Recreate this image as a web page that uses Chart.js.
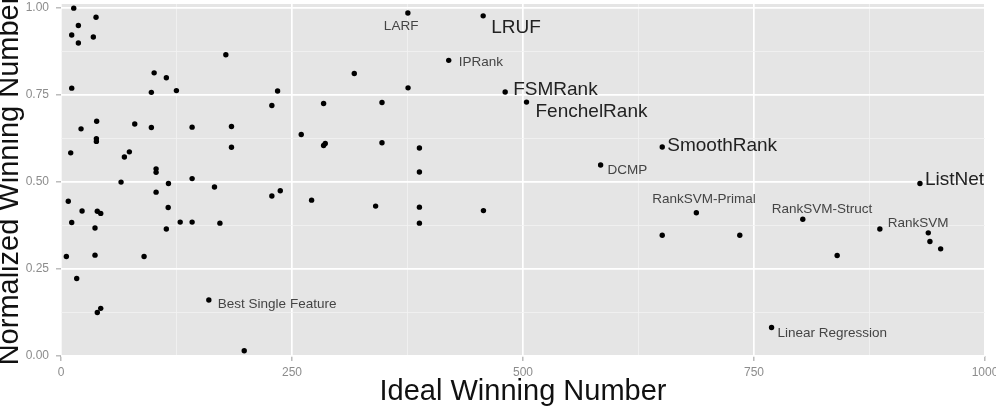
<!DOCTYPE html>
<html>
<head>
<meta charset="utf-8">
<script src="https://cdn.jsdelivr.net/npm/chart.js@4.4.1/dist/chart.umd.min.js"></script>
<style>
  html, body { margin: 0; padding: 0; background: #fff; }
  #wrap { width: 996px; height: 411px; }
</style>
</head>
<body>
<div id="wrap"><canvas id="chart"></canvas></div>
<script>
// unlabelled feature points
const otherX = [13.8, 37.9, 18.8, 11.6, 35.0, 18.8, 178.4, 100.8, 114.0, 11.6, 97.8, 124.9,
  21.7, 38.6, 38.3, 38.3, 79.8, 97.8, 141.9, 184.5, 184.5, 10.5, 74.0, 68.6, 102.9, 102.9,
  141.9, 65.0, 116.3, 166.1, 102.9, 7.9, 11.6, 22.8, 39.3, 43.0, 36.8, 5.8, 36.8, 17.0,
  39.3, 43.0, 89.9, 116.0, 114.0, 129.0, 141.9, 172.0, 198.3, 317.4, 375.6, 234.4, 228.2,
  284.2, 347.4, 260.0, 286.0, 284.2, 347.4, 387.9, 387.9, 237.3, 228.2, 271.2, 340.5,
  387.9, 387.9, 457.2, 650.7, 734.6, 840.0, 938.6, 940.4, 952.0];
const otherY = [1.000, 0.974, 0.950, 0.923, 0.917, 0.900, 0.866, 0.814, 0.800, 0.770, 0.758, 0.763,
  0.653, 0.675, 0.625, 0.617, 0.667, 0.657, 0.658, 0.660, 0.600, 0.584, 0.587, 0.572, 0.538, 0.528,
  0.510, 0.500, 0.496, 0.486, 0.471, 0.445, 0.384, 0.417, 0.416, 0.410, 0.368, 0.286, 0.290, 0.223,
  0.125, 0.137, 0.286, 0.427, 0.365, 0.385, 0.385, 0.382, 0.015, 0.812, 0.771, 0.762, 0.720,
  0.726, 0.729, 0.637, 0.611, 0.605, 0.613, 0.598, 0.529, 0.475, 0.460, 0.448, 0.431,
  0.428, 0.382, 0.418, 0.347, 0.347, 0.289, 0.354, 0.329, 0.308];

// named methods
const methodNames = ['LARF', 'LRUF', 'IPRank', 'FSMRank', 'FenchelRank', 'SmoothRank', 'DCMP',
  'RankSVM-Primal', 'RankSVM-Struct', 'RankSVM', 'ListNet', 'Best Single Feature', 'Linear Regression'];
const methodX = [375.4, 456.9, 419.6, 480.7, 503.8, 650.7, 584.0, 687.6, 802.8, 886.2, 929.6, 160.0, 769.0];
const methodY = [0.986, 0.978, 0.850, 0.759, 0.730, 0.601, 0.549, 0.412, 0.393, 0.365, 0.496, 0.161, 0.082];

const xTicks = [0, 250, 500, 750, 1000];
const xMinor = [125, 375, 625, 875];
const yTicks = [0, 0.25, 0.5, 0.75, 1];
const yMinor = [0.125, 0.375, 0.625, 0.875];

// label placement relative to the point (px) and font size
const labelStyle = {
  'LARF': { dx: -24, dy: 13, size: 13.5 },
  'LRUF': { dx: 8, dy: 12, size: 19 },
  'IPRank': { dx: 10, dy: 1.5, size: 13.5 },
  'FSMRank': { dx: 8, dy: -2, size: 19 },
  'FenchelRank': { dx: 9, dy: 10, size: 19 },
  'SmoothRank': { dx: 5, dy: -1.5, size: 19 },
  'DCMP': { dx: 7, dy: 5, size: 13.5 },
  'RankSVM-Primal': { dx: -44, dy: -13, size: 13.5 },
  'RankSVM-Struct': { dx: -31, dy: -10, size: 13.5 },
  'RankSVM': { dx: 8, dy: -6, size: 13.5 },
  'ListNet': { dx: 5, dy: -4, size: 19 },
  'Best Single Feature': { dx: 9, dy: 4, size: 13.5 },
  'Linear Regression': { dx: 6, dy: 6, size: 13.5 }
};

const FONT = '"Liberation Sans", Arial, sans-serif';
Chart.defaults.font.family = FONT;

const panelBg = {
  id: 'panelBg',
  beforeDraw(chart) {
    const { ctx, chartArea: a } = chart;
    ctx.save();
    ctx.fillStyle = '#e5e5e5';
    ctx.fillRect(a.left, a.top, a.right - a.left, a.bottom - a.top);
    ctx.restore();
  }
};

const pointLabels = {
  id: 'pointLabels',
  afterDatasetsDraw(chart) {
    const ctx = chart.ctx;
    const meta = chart.getDatasetMeta(1);
    ctx.save();
    ctx.textAlign = 'left';
    ctx.textBaseline = 'middle';
    methodNames.forEach((name, i) => {
      const el = meta.data[i];
      const s = labelStyle[name];
      ctx.font = s.size + 'px ' + FONT;
      ctx.fillStyle = s.size > 15 ? '#222' : '#444';
      ctx.fillText(name, el.x + s.dx, el.y + s.dy);
    });
    ctx.restore();
  }
};

function gridOpts(major) {
  return {
    color: c => major.includes(c.tick.value) ? '#ffffff' : '#f2f2f2',
    lineWidth: c => major.includes(c.tick.value) ? 1.7 : 0.8,
    tickColor: c => major.includes(c.tick.value) ? '#9a9a9a' : 'rgba(0,0,0,0)',
    tickWidth: 1,
    tickLength: 5
  };
}

new Chart(document.getElementById('chart'), {
  type: 'scatter',
  data: {
    datasets: [
      { data: otherX.map((x, i) => ({ x, y: otherY[i] })) },
      { data: methodX.map((x, i) => ({ x, y: methodY[i] })) }
    ]
  },
  options: {
    responsive: true,
    maintainAspectRatio: false,
    animation: false,
    layout: { padding: { top: 4, right: 11, left: 0, bottom: 0 } },
    elements: { point: { radius: 2.7, backgroundColor: '#000', borderWidth: 0 } },
    plugins: { legend: { display: false }, tooltip: { enabled: false } },
    scales: {
      x: {
        type: 'linear', min: 0, max: 1000,
        afterBuildTicks: s => { s.ticks = [...xTicks, ...xMinor].sort((a, b) => a - b).map(v => ({ value: v })); },
        afterFit: s => { s.height = 55; s.paddingLeft = 0; s.paddingRight = 0; },
        grid: gridOpts(xTicks),
        border: { display: false },
        ticks: {
          autoSkip: false, maxRotation: 0, padding: 4.5, color: '#8c8c8c', font: { size: 12 },
          callback: v => xTicks.includes(v) ? String(v) : ''
        },
        title: {
          display: true, text: 'Ideal Winning Number', color: '#111',
          font: { size: 29, lineHeight: 0.7 }, padding: { top: 0, bottom: 9 }
        }
      },
      y: {
        type: 'linear', min: 0, max: 1.012,
        afterBuildTicks: s => { s.ticks = [...yTicks, ...yMinor].sort((a, b) => a - b).map(v => ({ value: v })); },
        afterFit: s => { s.width = 61; s.paddingTop = 0; s.paddingBottom = 0; },
        grid: gridOpts(yTicks),
        border: { display: false },
        ticks: {
          autoSkip: false, padding: 7, color: '#8c8c8c', font: { size: 12 },
          callback: v => yTicks.includes(v) ? v.toFixed(2) : ''
        },
        title: {
          display: true, text: 'Normalized Winning Number', color: '#111',
          font: { size: 29, lineHeight: 0.7 }, padding: { top: 0, bottom: 0 }
        }
      }
    }
  },
  plugins: [panelBg, pointLabels]
});
</script>
</body>
</html>
